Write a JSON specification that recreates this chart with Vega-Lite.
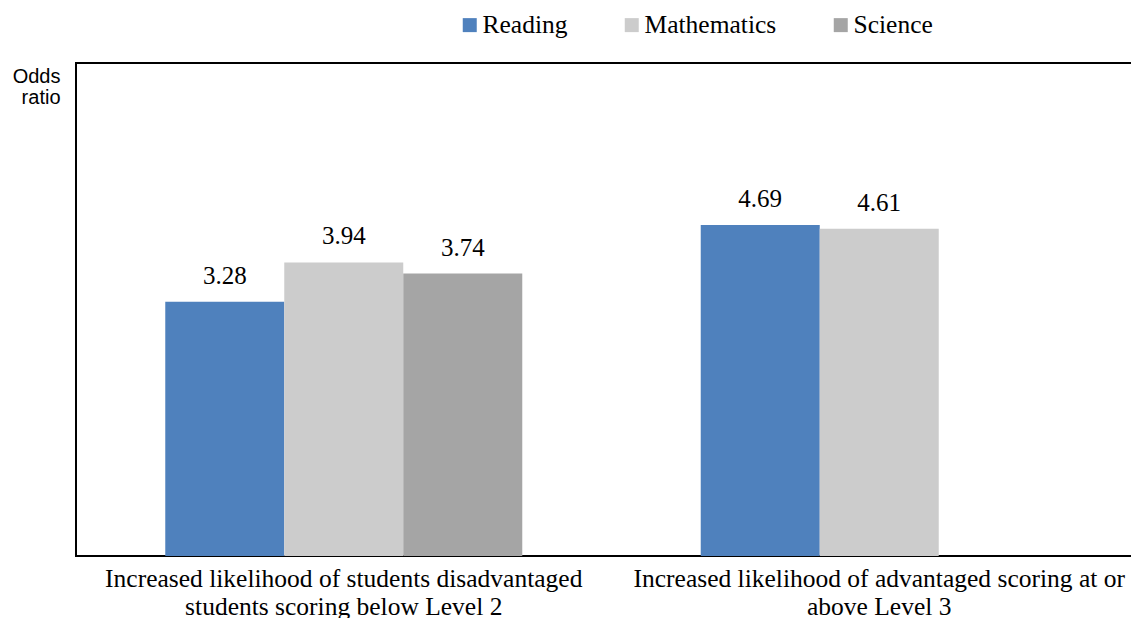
{
  "$schema": "https://vega.github.io/schema/vega-lite/v6.json",
  "autosize": {"type": "none"},
  "padding": {"left": 76, "top": 63, "right": -1, "bottom": 62},
  "width": 1056,
  "height": 493,
  "background": "white",
  "config": {
    "view": {"stroke": "black", "strokeWidth": 2},
    "font": "Liberation Serif"
  },
  "data": {
    "values": [
      {"category": "Increased likelihood of students disadvantaged students scoring below Level 2", "subject": "Reading", "odds": 3.28},
      {"category": "Increased likelihood of students disadvantaged students scoring below Level 2", "subject": "Mathematics", "odds": 3.94},
      {"category": "Increased likelihood of students disadvantaged students scoring below Level 2", "subject": "Science", "odds": 3.74},
      {"category": "Increased likelihood of advantaged scoring at or above Level 3", "subject": "Reading", "odds": 4.69},
      {"category": "Increased likelihood of advantaged scoring at or above Level 3", "subject": "Mathematics", "odds": 4.61}
    ]
  },
  "encoding": {
    "x": {
      "field": "category",
      "type": "nominal",
      "sort": null,
      "scale": {"paddingInner": 0.3333, "paddingOuter": 0.1667, "range": [0, 1071]},
      "axis": {
        "title": null,
        "domain": false,
        "ticks": false,
        "tickSize": 0,
        "labelAngle": 0,
        "labelPadding": 10,
        "labelFont": "Liberation Serif",
        "labelFontSize": 25.5,
        "labelColor": "black",
        "labelLineHeight": 28,
        "labelLimit": 0,
        "labelExpr": "indexof(datum.value, 'below Level 2') > -1 ? ['Increased likelihood of students disadvantaged', 'students scoring below Level 2'] : ['Increased likelihood of advantaged scoring at or', 'above Level 3']"
      }
    },
    "xOffset": {
      "field": "subject",
      "type": "nominal",
      "sort": ["Reading", "Mathematics", "Science"],
      "scale": {"domain": ["Reading", "Mathematics", "Science"], "paddingInner": 0, "paddingOuter": 0}
    },
    "y": {
      "field": "odds",
      "type": "quantitative",
      "scale": {"type": "log", "domain": [1, 10], "nice": false},
      "axis": {
        "title": ["Odds", "ratio"],
        "titleFont": "Liberation Sans",
        "titleFontSize": 20,
        "titleFontWeight": "normal",
        "titleColor": "black",
        "titleAngle": 0,
        "titleAlign": "right",
        "titleBaseline": "alphabetic",
        "titleX": -16,
        "titleY": 19,
        "titleLineHeight": 21,
        "labels": false,
        "ticks": false,
        "domain": false,
        "grid": false
      }
    }
  },
  "layer": [
    {
      "mark": {"type": "bar"},
      "encoding": {
        "y2": {"datum": 1},
        "color": {
          "field": "subject",
          "type": "nominal",
          "sort": ["Reading", "Mathematics", "Science"],
          "scale": {"domain": ["Reading", "Mathematics", "Science"], "range": ["#4F81BD", "#CCCCCC", "#A5A5A5"]},
          "legend": {
            "title": null,
            "orient": "none",
            "direction": "horizontal",
            "legendX": 381,
            "legendY": -51,
            "symbolType": "square",
            "symbolSize": 196,
            "symbolStrokeWidth": 0,
            "labelFont": "Liberation Serif",
            "labelFontSize": 25.5,
            "labelColor": "black",
            "labelOffset": 0,
            "columnPadding": 51
          }
        }
      }
    },
    {
      "mark": {"type": "text", "baseline": "alphabetic", "dy": -18, "font": "Liberation Serif", "fontSize": 25, "color": "black"},
      "encoding": {
        "text": {"field": "odds", "type": "quantitative", "format": ".2f"}
      }
    }
  ]
}
